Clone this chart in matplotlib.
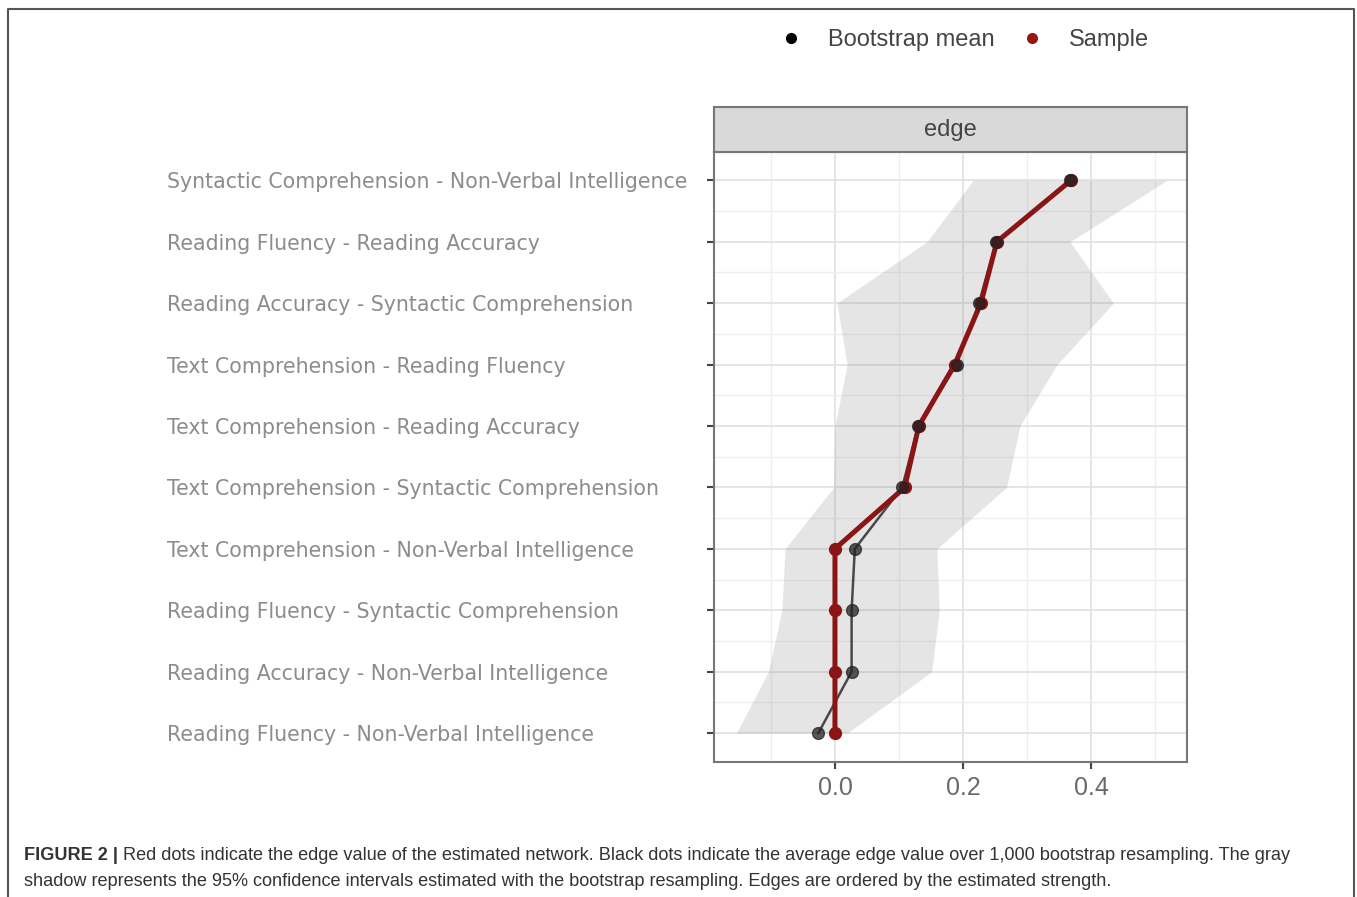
import matplotlib.pyplot as plt
import matplotlib.lines as mlines
import numpy as np

# edges, ordered top to bottom as in the figure
edges = [
    "Syntactic Comprehension - Non-Verbal Intelligence",
    "Reading Fluency - Reading Accuracy",
    "Reading Accuracy - Syntactic Comprehension",
    "Text Comprehension - Reading Fluency",
    "Text Comprehension - Reading Accuracy",
    "Text Comprehension - Syntactic Comprehension",
    "Text Comprehension - Non-Verbal Intelligence",
    "Reading Fluency - Syntactic Comprehension",
    "Reading Accuracy - Non-Verbal Intelligence",
    "Reading Fluency - Non-Verbal Intelligence",
]
sample = [0.369, 0.253, 0.228, 0.187, 0.131, 0.109, 0.0, 0.0, 0.0, 0.0]
boot_mean = [0.367, 0.252, 0.225, 0.190, 0.130, 0.105, 0.031, 0.026, 0.026, -0.026]
ci_lower = [0.216, 0.144, 0.003, 0.019, 0.0, -0.002, -0.078, -0.083, -0.104, -0.154]
ci_upper = [0.519, 0.367, 0.435, 0.347, 0.289, 0.268, 0.159, 0.163, 0.151, 0.019]
xticks = [0.0, 0.2, 0.4]

W, H = 1357, 897
fig = plt.figure(figsize=(W / 100, H / 100), dpi=100)

# outer frame
frame = mlines.Line2D([8 / W, 8 / W, 1354 / W, 1354 / W],
                      [0, 1 - 9 / H, 1 - 9 / H, 0],
                      transform=fig.transFigure, color='#555555', lw=1.5)
fig.add_artist(frame)

ax = fig.add_axes([714 / W, 1 - 762 / H, (1187 - 714) / W, (762 - 152) / H])
n = len(edges)
y = np.arange(n, 0, -1)  # top edge gets highest position

ax.fill_betweenx(y, ci_lower, ci_upper, color='#7f7f7f', alpha=0.2, lw=0, zorder=1)
ax.plot(boot_mean, y, color='#222222', lw=1.8, alpha=0.8, zorder=2)
ax.plot(sample, y, color='#8b1414', lw=3.6, marker='o', ms=8.5, zorder=3)
ax.plot(boot_mean, y, ls='', marker='o', ms=8.5, color='#222222', alpha=0.75, zorder=4)

ax.set_xlim(-0.189, 0.55)
ax.set_ylim(0.53, n + 0.46)
ax.set_xticks(xticks)
ax.set_xticklabels(['%.1f' % v for v in xticks])
ax.set_xticks([-0.1, 0.1, 0.3, 0.5], minor=True)
ax.set_yticks(y)
ax.set_yticks(y[:-1] - 0.5, minor=True)
ax.grid(True, which='major', color='#e3e3e3', lw=1.3, zorder=0)
ax.grid(True, which='minor', color='#efefef', lw=1.0, zorder=0)
ax.set_axisbelow(True)

ax.tick_params(axis='both', which='major', length=5, width=1.5, color='#444444')
ax.tick_params(axis='both', which='minor', length=0)
ax.tick_params(axis='x', labelsize=18, labelcolor='#6a6a6a', pad=5)
for lab in ax.get_xticklabels():
    lab.set_fontfamily('Liberation Sans')

# left aligned edge labels
ax.set_yticklabels(edges)
ax.tick_params(axis='y', pad=(714 - 169 - 5) / 1.389, labelsize=14.8, labelcolor='#8c8c8c')
for lab in ax.get_yticklabels():
    lab.set_horizontalalignment('left')
    lab.set_fontfamily('DejaVu Sans')

for s in ax.spines.values():
    s.set_color('#777777')
    s.set_linewidth(1.5)

# facet strip
sax = fig.add_axes([714 / W, 1 - 152 / H, (1187 - 714) / W, 45 / H])
sax.set_facecolor('#d9d9d9')
sax.set_xticks([])
sax.set_yticks([])
for s in sax.spines.values():
    s.set_color('#777777')
    s.set_linewidth(1.5)
sax.text(0.5, 0.5, 'edge', ha='center', va='center', fontsize=17,
         color='#444444', family='Liberation Sans')

# legend
handles = [
    mlines.Line2D([], [], color='black', marker='o', ls='', ms=7),
    mlines.Line2D([], [], color='#9b1414', marker='o', ls='', ms=7),
]
leg = fig.legend(handles, ['Bootstrap mean', 'Sample'], loc='center',
                 bbox_to_anchor=(963 / W, 1 - 40 / H), ncol=2, frameon=False,
                 handletextpad=0.95, columnspacing=1.0, handlelength=1.2,
                 prop={'family': 'Liberation Sans', 'size': 17})
for t in leg.get_texts():
    t.set_color('#444444')

# caption
renderer = fig.canvas.get_renderer()
bold = fig.text(24 / W, 1 - 860 / H, 'FIGURE 2 |', fontsize=13.1, fontweight='bold',
                family='Liberation Sans', color='#333333', va='baseline')
bb = bold.get_window_extent(renderer)
fig.text((bb.x1 + 5) / W, 1 - 860 / H,
         'Red dots indicate the edge value of the estimated network. Black dots indicate '
         'the average edge value over 1,000 bootstrap resampling. The gray',
         fontsize=13.1, family='Liberation Sans', color='#333333', va='baseline')
fig.text(24 / W, 1 - 886 / H,
         'shadow represents the 95% confidence intervals estimated with the bootstrap '
         'resampling. Edges are ordered by the estimated strength.',
         fontsize=13.1, family='Liberation Sans', color='#333333', va='baseline')

fig.savefig('out.png', dpi=100, facecolor='white')
